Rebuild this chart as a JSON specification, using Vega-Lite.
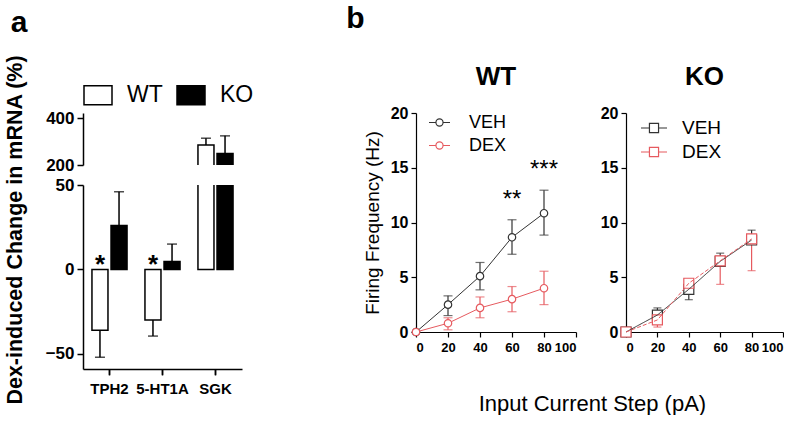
{
  "$schema": "https://vega.github.io/schema/vega-lite/v6.json",
  "padding": {"left": 4, "top": 4, "right": 0, "bottom": 0},
  "background": "white",
  "datasets": {
    "mrna": [
      {"gene": "TPH2", "genotype": "WT", "value": -36, "err": -52},
      {"gene": "TPH2", "genotype": "KO", "value": 26, "err": 46},
      {"gene": "5-HT1A", "genotype": "WT", "value": -30, "err": -39.5},
      {"gene": "5-HT1A", "genotype": "KO", "value": 4.7, "err": 15},
      {"gene": "SGK", "genotype": "WT", "value": 285, "err": 314},
      {"gene": "SGK", "genotype": "KO", "value": 249, "err": 324}
    ],
    "genes": [
      {"gene": "TPH2"},
      {"gene": "5-HT1A"},
      {"gene": "SGK"}
    ],
    "stars_a": [
      {"gene": "TPH2", "genotype": "WT", "label": "*"},
      {"gene": "5-HT1A", "genotype": "WT", "label": "*"}
    ],
    "firing": [
      {"genotype": "WT", "treatment": "VEH", "current": 0, "rate": 0, "lo": null, "hi": null},
      {"genotype": "WT", "treatment": "VEH", "current": 20, "rate": 2.5, "lo": 1.5, "hi": 3.3},
      {"genotype": "WT", "treatment": "VEH", "current": 40, "rate": 5.1, "lo": 3.85, "hi": 6.35},
      {"genotype": "WT", "treatment": "VEH", "current": 60, "rate": 8.65, "lo": 7.1, "hi": 10.25},
      {"genotype": "WT", "treatment": "VEH", "current": 80, "rate": 10.85, "lo": 8.85, "hi": 12.95},
      {"genotype": "WT", "treatment": "DEX", "current": 0, "rate": 0, "lo": null, "hi": null},
      {"genotype": "WT", "treatment": "DEX", "current": 20, "rate": 0.8, "lo": 0.2, "hi": 1.3},
      {"genotype": "WT", "treatment": "DEX", "current": 40, "rate": 2.2, "lo": 1.3, "hi": 3.2},
      {"genotype": "WT", "treatment": "DEX", "current": 60, "rate": 3.0, "lo": 1.85, "hi": 4.15},
      {"genotype": "WT", "treatment": "DEX", "current": 80, "rate": 4.0, "lo": 2.5, "hi": 5.55},
      {"genotype": "KO", "treatment": "VEH", "current": 0, "rate": 0, "lo": null, "hi": null},
      {"genotype": "KO", "treatment": "VEH", "current": 20, "rate": 1.55, "lo": 1.55, "hi": 2.2},
      {"genotype": "KO", "treatment": "VEH", "current": 40, "rate": 3.9, "lo": 2.95, "hi": 3.9},
      {"genotype": "KO", "treatment": "VEH", "current": 60, "rate": 6.45, "lo": 6.45, "hi": 7.2},
      {"genotype": "KO", "treatment": "VEH", "current": 80, "rate": 8.4, "lo": 8.4, "hi": 9.3},
      {"genotype": "KO", "treatment": "DEX", "current": 0, "rate": 0, "lo": null, "hi": null},
      {"genotype": "KO", "treatment": "DEX", "current": 20, "rate": 1.1, "lo": 0.45, "hi": 1.1},
      {"genotype": "KO", "treatment": "DEX", "current": 40, "rate": 4.45, "lo": 4.45, "hi": 4.45},
      {"genotype": "KO", "treatment": "DEX", "current": 60, "rate": 6.5, "lo": 4.35, "hi": 6.5},
      {"genotype": "KO", "treatment": "DEX", "current": 80, "rate": 8.5, "lo": 5.6, "hi": 8.5}
    ],
    "stars_b": [
      {"current": 60, "y": 11.4, "label": "**"},
      {"current": 80, "y": 14.2, "label": "***"}
    ]
  },
  "spacing": 92,
  "hconcat": [
    {
      "title": {"text": "a", "anchor": "start", "fontSize": 30, "fontWeight": "bold", "offset": 17.5, "dx": 6},
      "vconcat": [
        {
          "title": {"text": "Dex-induced Change in mRNA (%)", "orient": "left", "anchor": "middle", "fontSize": 21.5, "fontWeight": "bold", "offset": 19, "dx": 8},
          "spacing": 20,
          "bounds": "flush",
          "resolve": {"scale": {"x": "independent", "xOffset": "independent", "y": "independent", "fill": "independent"}, "legend": {"fill": "independent"}, "axis": {"x": "independent", "y": "independent"}},
          "vconcat": [
            {
              "width": 159,
              "height": 52,
              "data": {"name": "mrna"},
              "encoding": {
                "x": {"field": "gene", "type": "nominal", "sort": ["TPH2", "5-HT1A", "SGK"], "scale": {"paddingInner": 0, "paddingOuter": 0}, "axis": null},
                "xOffset": {"field": "genotype", "type": "nominal", "sort": ["WT", "KO"], "scale": {"paddingInner": 0.16, "paddingOuter": 0.47}}
              },
              "layer": [
                {
                  "mark": {"type": "bar", "clip": true, "stroke": "black", "strokeWidth": 1.5},
                  "encoding": {
                    "y": {"field": "value", "type": "quantitative", "scale": {"domain": [200, 421.3], "nice": false}, "axis": {"values": [200, 400], "title": null, "labelFontSize": 17, "tickSize": 6, "domainWidth": 1.5, "tickWidth": 1.5, "labelPadding": 3}},
                    "y2": {"datum": 0},
                    "fill": {"field": "genotype", "type": "nominal", "scale": {"domain": ["WT", "KO"], "range": ["white", "black"]},
                      "legend": {"title": null, "orient": "top", "direction": "horizontal", "symbolType": "M-1,-0.68H1V0.68H-1Z", "symbolSize": 784, "symbolStrokeColor": "black", "symbolStrokeWidth": 1.5, "labelFontSize": 23, "labelFont": "Liberation Sans", "labelFontWeight": "normal", "labelOffset": 14, "columnPadding": 11, "offset": 5, "padding": 0}}
                  }
                },
                {
                  "mark": {"type": "rule", "clip": true, "color": "black", "strokeWidth": 1.5},
                  "encoding": {"y": {"field": "value", "type": "quantitative"}, "y2": {"field": "err"}}
                },
                {
                  "mark": {"type": "tick", "clip": true, "orient": "horizontal", "size": 10, "thickness": 1.5, "color": "black"},
                  "encoding": {"y": {"field": "err", "type": "quantitative"}}
                }
              ]
            },
            {
              "width": 159,
              "height": 184,
              "layer": [
                {
                  "data": {"name": "mrna"},
                  "encoding": {
                    "x": {"field": "gene", "type": "nominal", "sort": ["TPH2", "5-HT1A", "SGK"], "scale": {"paddingInner": 0, "paddingOuter": 0},
                      "axis": {"title": null, "orient": "bottom", "domain": true, "ticks": true, "domainOpacity": 1, "tickOpacity": 1, "zindex": 2, "labelAngle": 0, "labelFontSize": 15, "tickSize": 6, "domainWidth": 1.5, "tickWidth": 1.5, "labelPadding": 6, "domainColor": "black", "tickColor": "black"}},
                    "xOffset": {"field": "genotype", "type": "nominal", "sort": ["WT", "KO"], "scale": {"paddingInner": 0.16, "paddingOuter": 0.47}}
                  },
                  "layer": [
                    {
                      "mark": {"type": "bar", "clip": true, "stroke": "black", "strokeWidth": 1.5},
                      "encoding": {
                        "y": {"field": "value", "type": "quantitative", "scale": {"domain": [-59, 50], "nice": false}, "axis": {"values": [-50, 0, 50], "title": null, "labelFontSize": 17, "tickSize": 6, "domainWidth": 1.5, "tickWidth": 1.5, "labelPadding": 3}},
                        "y2": {"datum": 0},
                        "fill": {"field": "genotype", "type": "nominal", "scale": {"domain": ["WT", "KO"], "range": ["white", "black"]}, "legend": null}
                      }
                    },
                    {
                      "mark": {"type": "rule", "clip": true, "color": "black", "strokeWidth": 1.5},
                      "encoding": {"y": {"field": "value", "type": "quantitative"}, "y2": {"field": "err"}}
                    },
                    {
                      "mark": {"type": "tick", "clip": true, "orient": "horizontal", "size": 10, "thickness": 1.5, "color": "black"},
                      "encoding": {"y": {"field": "err", "type": "quantitative"}}
                    },
                    {
                      "data": {"name": "stars_a"},
                      "mark": {"type": "text", "fontSize": 26, "fontWeight": "bold", "baseline": "alphabetic", "dy": 4, "color": "black"},
                      "encoding": {
                        "y": {"datum": 0},
                        "text": {"field": "label"}
                      }
                    }
                  ]
                },
                {
                  "mark": {"type": "rule", "color": "black", "strokeWidth": 1.5},
                  "encoding": {"y": {"datum": 0}}
                },
                {
                  "mark": {"type": "rule", "color": "black", "strokeWidth": 1.5},
                  "encoding": {"y": {"datum": -59}}
                },
                {
                  "data": {"name": "genes"},
                  "mark": {"type": "rule", "color": "black", "strokeWidth": 1.5},
                  "encoding": {
                    "x": {"field": "gene", "type": "nominal", "sort": ["TPH2", "5-HT1A", "SGK"]},
                    "y": {"datum": -59},
                    "y2": {"datum": -62.5}
                  }
                }
              ]
            }
          ]
        }
      ]
    },
    {
      "title": {"text": "b", "anchor": "start", "fontSize": 30, "fontWeight": "bold", "offset": 30, "dx": -17},
      "vconcat": [
        {
          "title": {"text": "Input Current Step (pA)", "orient": "bottom", "anchor": "middle", "fontSize": 22, "fontWeight": "normal", "offset": 40, "dx": 19},
          "spacing": 23,
          "resolve": {"scale": {"stroke": "independent", "x": "independent", "y": "independent"}, "legend": {"stroke": "independent"}},
          "hconcat": [
            {
              "width": 160,
              "height": 219,
              "title": {"text": "WT", "fontSize": 26, "fontWeight": "bold", "anchor": "middle", "offset": 15},
              "data": {"name": "firing"},
              "transform": [{"filter": "datum.genotype === 'WT'"}],
              "encoding": {
                "x": {"field": "current", "type": "quantitative", "scale": {"domain": [0, 100], "nice": false},
                  "axis": {"values": [0, 20, 40, 60, 80, 100], "title": null, "labelFontSize": 13, "tickSize": 5, "labelPadding": 4, "domainWidth": 1.2, "tickWidth": 1.2}},
                "y": {"field": "rate", "type": "quantitative", "scale": {"domain": [0, 20], "nice": false},
                  "axis": {"values": [0, 5, 10, 15, 20], "title": "Firing Frequency (Hz)", "titleFontSize": 19, "titleFontWeight": "normal", "titlePadding": 8, "labelFontSize": 16, "tickSize": 5, "labelPadding": 3, "domainWidth": 1.2, "tickWidth": 1.2}}
              },
              "layer": [
                {
                  "mark": {"type": "line", "strokeWidth": 1},
                  "encoding": {
                    "stroke": {"field": "treatment", "type": "nominal", "scale": {"domain": ["VEH", "DEX"], "range": ["#333333", "#e65a5f"]},
                      "legend": {"title": null, "orient": "none", "legendX": 12, "legendY": -2, "padding": 0, "symbolType": "M-1,0H-0.34M0.34,0H1M0.34,0A0.34,0.34,0,1,1,-0.34,0A0.34,0.34,0,1,1,0.34,0", "symbolSize": 441, "symbolFillColor": "white", "symbolStrokeWidth": 1.2, "labelFontSize": 18, "labelFont": "Liberation Sans", "labelFontWeight": "normal", "labelOffset": 18, "rowPadding": 2}}
                  }
                },
                {
                  "mark": {"type": "rule", "strokeWidth": 1.2},
                  "encoding": {"y": {"field": "lo", "type": "quantitative"}, "y2": {"field": "hi"}, "stroke": {"field": "treatment", "type": "nominal"}}
                },
                {
                  "mark": {"type": "tick", "orient": "horizontal", "size": 9, "thickness": 1.2},
                  "encoding": {"y": {"field": "lo", "type": "quantitative"}, "color": {"field": "treatment", "type": "nominal", "scale": {"domain": ["VEH", "DEX"], "range": ["#333333", "#e65a5f"]}, "legend": null}}
                },
                {
                  "mark": {"type": "tick", "orient": "horizontal", "size": 9, "thickness": 1.2},
                  "encoding": {"y": {"field": "hi", "type": "quantitative"}, "color": {"field": "treatment", "type": "nominal", "scale": {"domain": ["VEH", "DEX"], "range": ["#333333", "#e65a5f"]}, "legend": null}}
                },
                {
                  "mark": {"type": "point", "shape": "circle", "size": 55, "filled": false, "fill": "white", "fillOpacity": 1, "strokeWidth": 1.2, "opacity": 1},
                  "encoding": {"stroke": {"field": "treatment", "type": "nominal"}}
                },
                {
                  "data": {"name": "stars_b"},
                  "mark": {"type": "text", "fontSize": 24, "fontWeight": "normal", "baseline": "alphabetic", "color": "black"},
                  "encoding": {"x": {"field": "current", "type": "quantitative"}, "y": {"field": "y", "type": "quantitative"}, "text": {"field": "label"}}
                }
              ]
            },
            {
              "width": 157,
              "height": 219,
              "title": {"text": "KO", "fontSize": 26, "fontWeight": "bold", "anchor": "middle", "offset": 15},
              "data": {"name": "firing"},
              "transform": [{"filter": "datum.genotype === 'KO'"}],
              "encoding": {
                "x": {"field": "current", "type": "quantitative", "scale": {"domain": [0, 100], "nice": false},
                  "axis": {"values": [0, 20, 40, 60, 80, 100], "title": null, "labelFontSize": 13, "tickSize": 5, "labelPadding": 4, "domainWidth": 1.2, "tickWidth": 1.2}},
                "y": {"field": "rate", "type": "quantitative", "scale": {"domain": [0, 20], "nice": false},
                  "axis": {"values": [0, 5, 10, 15, 20], "title": null, "labelFontSize": 16, "tickSize": 5, "labelPadding": 3, "domainWidth": 1.2, "tickWidth": 1.2}}
              },
              "layer": [
                {
                  "mark": {"type": "rule", "strokeWidth": 1.2},
                  "encoding": {"y": {"field": "lo", "type": "quantitative"}, "y2": {"field": "hi"}, "stroke": {"field": "treatment", "type": "nominal"}}
                },
                {
                  "mark": {"type": "tick", "orient": "horizontal", "size": 8, "thickness": 1.2},
                  "encoding": {"y": {"field": "lo", "type": "quantitative"}, "color": {"field": "treatment", "type": "nominal", "scale": {"domain": ["VEH", "DEX"], "range": ["#333333", "#e65a5f"]}, "legend": null}}
                },
                {
                  "mark": {"type": "tick", "orient": "horizontal", "size": 8, "thickness": 1.2},
                  "encoding": {"y": {"field": "hi", "type": "quantitative"}, "color": {"field": "treatment", "type": "nominal", "scale": {"domain": ["VEH", "DEX"], "range": ["#333333", "#e65a5f"]}, "legend": null}}
                },
                {
                  "mark": {"type": "point", "shape": "square", "size": 100, "filled": false, "fill": "white", "fillOpacity": 1, "strokeWidth": 1.2, "opacity": 1},
                  "encoding": {"stroke": {"field": "treatment", "type": "nominal"}}
                },
                {
                  "mark": {"type": "line", "strokeWidth": 1},
                  "encoding": {
                    "stroke": {"field": "treatment", "type": "nominal", "scale": {"domain": ["VEH", "DEX"], "range": ["#333333", "#e65a5f"]},
                      "legend": {"title": null, "orient": "none", "legendX": 14, "legendY": 1, "padding": 0, "symbolType": "M-1,0H-0.35M0.35,0H1M-0.35,-0.35H0.35V0.35H-0.35Z", "symbolSize": 676, "symbolFillColor": "white", "symbolStrokeWidth": 1.2, "labelFontSize": 19, "labelFont": "Liberation Sans", "labelFontWeight": "normal", "labelOffset": 14, "rowPadding": 0}},
                    "strokeDash": {"field": "treatment", "type": "nominal", "scale": {"domain": ["VEH", "DEX"], "range": [[1, 0], [4, 2]]}, "legend": null}
                  }
                }
              ]
            }
          ]
        }
      ]
    }
  ],
  "config": {
    "view": {"stroke": null},
    "font": "Liberation Sans",
    "axis": {"domainColor": "black", "tickColor": "black", "labelColor": "black", "titleColor": "black", "grid": false, "labelFontWeight": "bold", "labelFont": "Liberation Sans", "titleFont": "Liberation Sans"},
    "title": {"color": "black", "font": "Liberation Sans"},
    "legend": {"labelColor": "black"}
  }
}
